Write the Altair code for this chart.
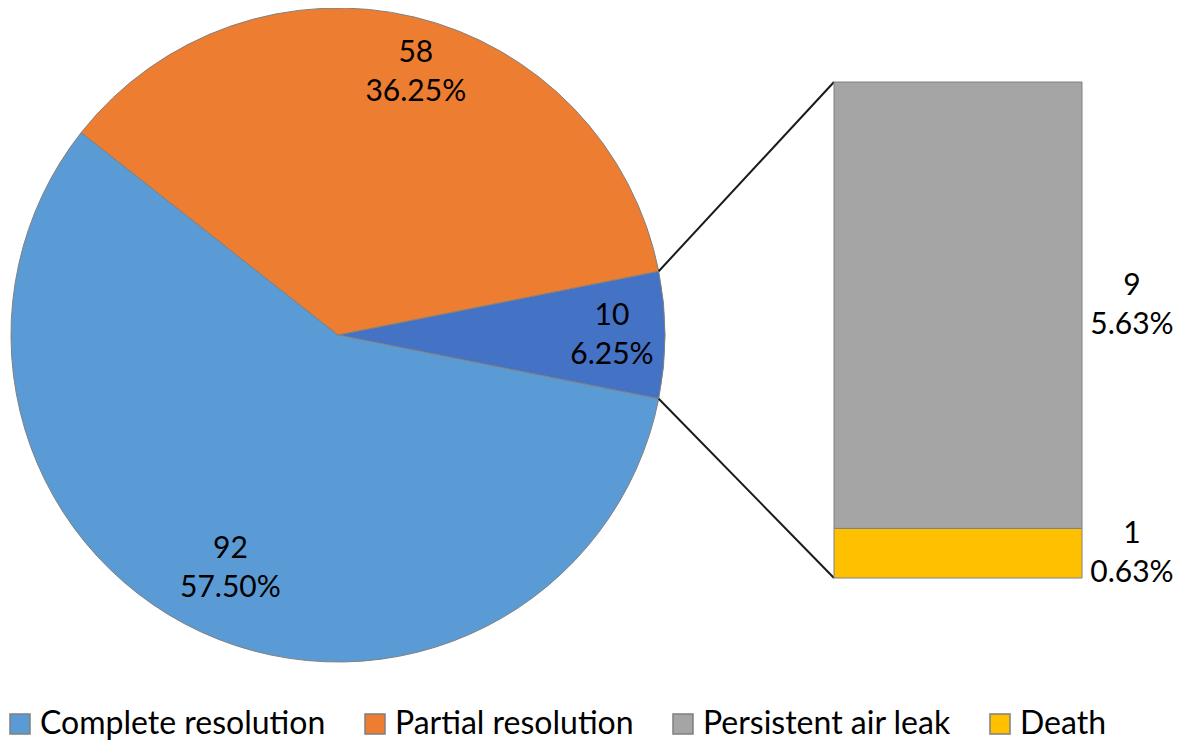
import math
from decimal import Decimal, ROUND_HALF_UP
import altair as alt
import pandas as pd

# ---------------- data ----------------
pie_categories = ["Other", "Complete resolution", "Partial resolution"]
pie_values = [10, 92, 58]
bar_categories = ["Death", "Persistent air leak"]
bar_values = [1, 9]
legend_items = ["Complete resolution", "Partial resolution", "Persistent air leak", "Death"]

color_domain = ["Complete resolution", "Partial resolution", "Persistent air leak", "Death", "Other"]
color_range = ["#5B9BD5", "#ED7D31", "#A5A5A5", "#FFC000", "#4472C4"]

# ---------------- layout ----------------
W, H = 1166, 733
CX, CY, R = 330, 327, 327
BAR_X0, BAR_X1, BAR_TOP, BAR_BOT = 826, 1074, 74, 570
BAR_LABEL_X = 1124
label_radius = [274, 257, 274]
label_nudge_deg = [0, 0, 3]
FONT = "Lato"
FS = 30
LH = 39

total = sum(pie_values)
bar_total = sum(bar_values)


def pct(v):
    d = Decimal(v) * Decimal(100) / Decimal(total)
    return str(d.quantize(Decimal("0.01"), rounding=ROUND_HALF_UP)) + "%"


# rotation so the split-off slice is centred on the right-hand side
start = math.pi / 2 - math.pi * pie_values[0] / total

pie_df = pd.DataFrame({
    "category": pie_categories,
    "value": pie_values,
    "order": list(range(len(pie_values))),
})

# label positions at mid-angles of each slice
cum = 0
lab_rows = []
for i, (c, v) in enumerate(zip(pie_categories, pie_values)):
    mid = start + 2 * math.pi * (cum + v / 2) / total + math.radians(label_nudge_deg[i])
    cum += v
    r = label_radius[i]
    lab_rows.append({
        "lx": CX + r * math.sin(mid),
        "ly": CY - r * math.cos(mid),
        "text": f"{v}\n{pct(v)}",
    })
lab_df = pd.DataFrame(lab_rows)

# connector lines from the edges of the split slice to the bar corners
a_top = start
a_bot = start + 2 * math.pi * pie_values[0] / total
line_df = pd.DataFrame({
    "x0": [CX + R * math.sin(a_top), CX + R * math.sin(a_bot)],
    "y0": [CY - R * math.cos(a_top), CY - R * math.cos(a_bot)],
    "x1": [BAR_X0, BAR_X0],
    "y1": [BAR_TOP, BAR_BOT],
})

bar_df = pd.DataFrame({
    "category": bar_categories,
    "value": bar_values,
    "order": list(range(len(bar_values))),
    "text": [f"{v}\n{pct(v)}" for v in bar_values],
})

# ---------------- scales ----------------
color_scale = alt.Scale(domain=color_domain, range=color_range)
legend = alt.Legend(
    orient="none", legendX=-4, legendY=700, direction="horizontal", columns=4,
    padding=0, title=None, values=legend_items, symbolType="square", symbolSize=400,
    symbolStrokeColor="#7f7f7f", symbolStrokeWidth=1.5, symbolOpacity=1,
    labelFont=FONT, labelFontSize=32, labelColor="black", labelLimit=0,
    labelOffset=4, columnPadding=33,
)
cx_scale = alt.Scale(domain=[0, W], range=[0, W], nice=False, zero=False)
cy_scale = alt.Scale(domain=[0, H], range=[0, H], nice=False, zero=False)
bar_scale = alt.Scale(domain=[0, bar_total], range=[BAR_BOT, BAR_TOP], nice=False, zero=False)
theta_scale = alt.Scale(domain=[0, total], range=[start, start + 2 * math.pi])

pie = alt.Chart(pie_df).mark_arc(outerRadius=R, stroke="#808080", strokeWidth=1).encode(
    theta=alt.Theta("value:Q", stack=True, scale=theta_scale),
    color=alt.Color("category:N", scale=color_scale, legend=legend),
    order=alt.Order("order:Q"),
    x=alt.value(CX),
    y=alt.value(CY),
)

text_style = dict(
    font=FONT, fontSize=FS, color="black", lineBreak="\n", lineHeight=LH,
    align="center", baseline="middle", dy=-LH / 2,
)

pie_text = alt.Chart(lab_df).mark_text(**text_style).encode(
    x=alt.X("lx:Q", scale=cx_scale, axis=None),
    y=alt.Y("ly:Q", scale=cy_scale, axis=None),
    text="text:N",
)

lines = alt.Chart(line_df).mark_rule(color="#1a1a1a", strokeWidth=2).encode(
    x=alt.X("x0:Q", scale=cx_scale, axis=None),
    y=alt.Y("y0:Q", scale=cy_scale, axis=None),
    x2="x1:Q",
    y2="y1:Q",
)

stacked = alt.Chart(bar_df).transform_stack(
    stack="value", as_=["v0", "v1"], groupby=[], sort=[alt.SortField("order")]
).transform_calculate(mid="(datum.v0 + datum.v1) / 2")

bar = stacked.mark_bar(stroke="#808080", strokeWidth=1).encode(
    x=alt.value(BAR_X0),
    x2=alt.value(BAR_X1),
    y=alt.Y("v0:Q", scale=bar_scale, axis=None),
    y2="v1:Q",
    color=alt.Color("category:N", scale=color_scale, legend=legend),
)

bar_text = stacked.mark_text(**text_style).encode(
    x=alt.value(BAR_LABEL_X),
    y=alt.Y("mid:Q", scale=bar_scale, axis=None),
    text="text:N",
)

chart = alt.layer(pie, lines, bar, pie_text, bar_text).resolve_scale(
    y="independent"
).properties(
    width=W, height=H, autosize="none", padding=0
).configure_view(stroke=None)

chart.save("out.html", embed_options={"renderer": "svg", "actions": False})
